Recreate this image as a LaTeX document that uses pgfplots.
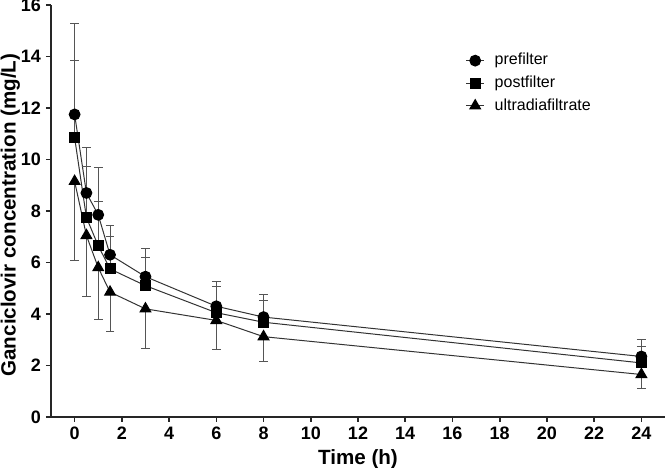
\documentclass[border=0pt]{standalone}
\usepackage{fontspec}
\setmainfont{Liberation Sans}
\usepackage{pgfplots}
\pgfplotsset{compat=1.18}

\definecolor{linegray}{HTML}{333333}
\definecolor{bargray}{HTML}{555555}

\begin{document}
\begin{tikzpicture}
 \begin{axis}[
  scale only axis,
  width=307pt,
  height=206pt,
  xmin=-1, xmax=25,
  ymin=0, ymax=16,
  axis lines=left,
  axis line style={-, line width=0.8pt, black!85},
  xtick={0,2,...,24},
  ytick={0,2,...,16},
  tick align=outside,
  major tick length=2.5pt,
  tick style={line width=0.8pt, black!85},
  /pgf/number format/assume math mode=true,
  tick label style={font=\fontsize{9}{10}\selectfont\bfseries},
  xticklabel style={yshift=1pt},
  yticklabel style={xshift=1pt},
  xlabel={Time (h)},
  ylabel={Ganciclovir concentration (mg/L)},
  label style={font=\fontsize{10.3}{12}\selectfont\bfseries},
  xlabel style={yshift=2pt},
  every axis y label/.style={at={(rel axis cs:0,0.49)}, xshift=-12pt,
    rotate=90, anchor=south, font=\fontsize{10.3}{12}\selectfont\bfseries},
  legend style={draw=none, fill=none, at={(0.665,0.903)}, anchor=north west,
    font=\fontsize{8}{9.5}\selectfont, row sep=0pt},
  legend cell align=left,
  legend image code/.code={\draw[mark repeat=2, mark phase=2, #1]
    plot coordinates {(0pt,0pt) (4.5pt,0pt) (9pt,0pt)};
    \path (12pt,0pt);},
  every axis plot/.append style={line width=0.5pt, color=linegray},
  error bars/error bar style={bargray, line width=0.5pt},
  error bars/error mark options={rotate=90, mark size=2.2pt, bargray, line width=0.5pt},
 ]
  \coordinate (sw) at (rel axis cs:0,0);
  \coordinate (ne) at (rel axis cs:1,1);
  \addplot[mark=*, mark size=2.7pt, mark options={fill=black, draw=black},
    error bars/.cd, y dir=plus, y explicit] table[x=t, y=c, y error=e] {
  t    c     e
  0    11.75 3.55
  0.5  8.70  1.75
  1    7.85  1.85
  1.5  6.30  1.14
  3    5.45  1.10
  6    4.30  0.97
  8    3.88  0.89
  24   2.35  0.67
 };
 \addlegendentry{prefilter}
  \addplot[mark=square*, mark size=2.5pt, mark options={fill=black, draw=black},
    error bars/.cd, y dir=plus, y explicit] table[x=t, y=c, y error=e] {
  t    c     e
  0    10.85 3.00
  0.5  7.75  1.98
  1    6.65  1.72
  1.5  5.75  1.25
  3    5.10  1.10
  6    4.05  1.03
  8    3.68  0.85
  24   2.10  0.65
 };
 \addlegendentry{postfilter}
  \addplot[mark=triangle*, mark size=3.1pt, mark options={fill=black, draw=black},
    error bars/.cd, y dir=minus, y explicit] table[x=t, y=c, y error=e] {
  t    c     e
  0    9.15  3.07
  0.5  7.05  2.36
  1    5.80  2.00
  1.5  4.85  1.52
  3    4.20  1.53
  6    3.75  1.11
  8    3.12  0.98
  24   1.65  0.53
 };
 \addlegendentry{ultradiafiltrate}
 \end{axis}
 \pgfresetboundingbox
 \path ([shift={(-25.5pt,-25.5pt)}]sw) rectangle ([shift={(0.5pt,2.5pt)}]ne);
\end{tikzpicture}
\end{document}
